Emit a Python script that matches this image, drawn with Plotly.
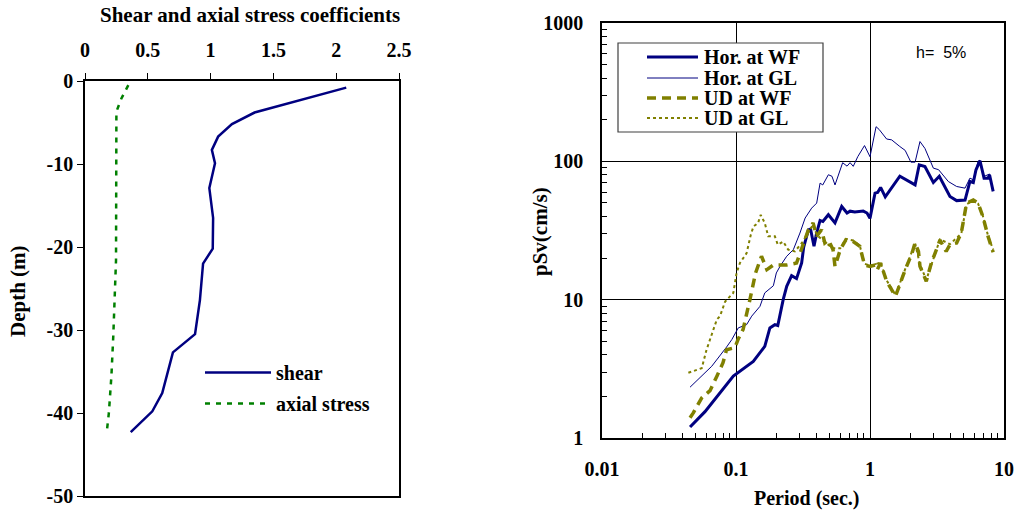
import plotly.graph_objects as go

# ---------------- Left panel data ----------------
shear_coef = [2.08, 1.35, 1.17, 1.06, 1.01, 1.035, 0.99, 1.02, 1.017, 0.94, 0.915, 0.876, 0.70, 0.615, 0.536, 0.364]
shear_depth = [-0.8, -3.8, -5.2, -6.7, -8.3, -9.9, -12.9, -16.5, -20.2, -22.0, -26.4, -30.5, -32.7, -37.6, -39.8, -42.3]

axial_coef = [0.345, 0.29, 0.25, 0.25, 0.247, 0.225, 0.21, 0.19, 0.173]
axial_depth = [-0.5, -2.1, -3.7, -20.2, -21.6, -30.8, -35.6, -40.0, -42.3]

depth_ticks = [0, -10, -20, -30, -40, -50]
depth_ticktext = ["0", "-10", "-20", "-30", "-40", "-50"]
coef_ticks = [0, 0.5, 1, 1.5, 2, 2.5]
coef_ticktext = ["0", "0.5", "1", "1.5", "2", "2.5"]

# ---------------- Right panel data ----------------
hwf_T = [0.0454, 0.0587, 0.0955, 0.1346, 0.164, 0.179, 0.195, 0.205, 0.225, 0.239, 0.26, 0.283, 0.309,
         0.32, 0.347, 0.36, 0.382, 0.40, 0.424, 0.445, 0.489, 0.548, 0.615, 0.674, 0.71, 0.77, 0.89, 0.95,
         1.0, 1.09, 1.14, 1.2, 1.3, 1.58, 1.67, 2.17, 2.33, 2.57, 2.97, 3.29, 3.95, 4.43, 5.12, 5.57, 5.9,
         6.18, 6.62, 7.1, 7.6, 7.8, 8.3]
hwf_v = [1.2, 1.55, 2.8, 3.58, 4.6, 6.25, 6.6, 6.5, 10.0, 12.5, 14.9, 14.2, 18.4,
         24.0, 32.0, 32.4, 24.3, 30.4, 37.4, 36.7, 41.1, 35.9, 47.2, 42.3, 43.6, 43.0, 43.7, 42.3,
         38.7, 58.9, 59.5, 64.8, 55.3, 71.5, 78.1, 67.6, 94.4, 91.7, 70.3, 78.0, 55.7, 52.0, 52.5, 71.5, 70.3,
         86.9, 101.0, 75.6, 75.6, 80.0, 60.6]

hgl_T = [0.0454, 0.051, 0.0659, 0.0851, 0.093, 0.104, 0.12, 0.131, 0.151, 0.164, 0.19, 0.2, 0.213, 0.239,
         0.268, 0.30, 0.328, 0.367, 0.40, 0.424, 0.444, 0.489, 0.52, 0.548, 0.625, 0.674, 0.71, 0.75, 0.81,
         0.91, 1.0, 1.11, 1.17, 1.33, 1.45, 1.67, 1.83, 2.02, 2.17, 2.36, 2.57, 2.97, 3.25, 3.84, 4.43,
         5.12, 5.57, 5.9, 6.4, 6.62, 7.1, 7.8, 8.3]
hgl_v = [2.33, 2.6, 3.3, 4.55, 5.14, 6.25, 6.6, 7.6, 8.95, 11.2, 12.6, 15.6, 17.4, 20.6,
         23.0, 30.3, 38.9, 45.9, 49.9, 69.6, 67.5, 80.0, 78.0, 67.5, 97.7, 92.3, 97.8, 92.0, 108.0,
         130.0, 108.0, 178.0, 170.0, 145.0, 143.0, 128.0, 120.0, 98.6, 98.6, 139.0, 124.0, 89.3, 87.0, 71.5, 65.8,
         64.0, 75.6, 73.6, 100.0, 102.0, 77.8, 81.0, 62.0]

udwf_T = [0.0454, 0.048, 0.0555, 0.064, 0.072, 0.08, 0.085, 0.098, 0.104, 0.113, 0.127, 0.14, 0.155, 0.17,
          0.19, 0.239, 0.283, 0.32, 0.347, 0.376, 0.40, 0.435, 0.46, 0.49, 0.53, 0.548, 0.60, 0.66, 0.71,
          0.75, 0.84, 0.91, 1.0, 1.09, 1.13, 1.2, 1.33, 1.55, 1.63, 1.83, 2.06, 2.17, 2.3, 2.36, 2.63, 2.87,
          3.33, 3.7, 3.95, 4.43, 4.8, 5.26, 5.9, 6.4, 6.95, 7.6, 8.3]
udwf_v = [1.4, 1.52, 1.95, 2.2, 2.8, 3.5, 4.35, 4.5, 5.2, 6.1, 10.0, 15.6, 20.6, 16.5,
          17.8, 17.8, 18.4, 25.7, 32.0, 35.8, 28.8, 32.0, 25.7, 27.0, 23.0, 17.4, 23.0, 27.0, 27.0,
          26.3, 24.3, 17.8, 17.4, 17.8, 16.4, 18.4, 13.6, 10.6, 12.2, 16.4, 21.7, 25.7, 22.3, 17.4, 13.6, 18.4,
          27.0, 22.3, 25.0, 25.7, 30.4, 49.9, 52.5, 50.0, 40.0, 28.7, 22.0]

udgl_T = [0.0441, 0.0555, 0.0603, 0.072, 0.076, 0.083, 0.0955, 0.101, 0.107, 0.12, 0.129, 0.135, 0.146,
          0.153, 0.164, 0.174, 0.195, 0.205, 0.225, 0.245, 0.275, 0.31, 0.376, 0.40, 0.46, 0.53, 0.60,
          0.66, 0.75, 0.84, 0.91, 1.0, 1.09, 1.2, 1.33, 1.55, 1.83, 2.17, 2.36, 2.63, 3.33, 3.95, 4.8,
          5.26, 5.9, 6.4, 6.95, 7.6, 8.3]
udgl_v = [2.96, 3.2, 4.35, 7.2, 7.6, 9.7, 11.2, 15.6, 18.4, 21.7, 29.5, 33.8, 35.8,
          41.0, 35.8, 28.7, 28.7, 25.0, 26.3, 23.0, 22.3, 25.7, 34.8, 29.5, 26.0, 23.5, 23.5,
          27.5, 26.8, 24.5, 18.2, 17.6, 18.0, 18.6, 13.8, 10.8, 16.6, 25.5, 18.0, 13.9,
          27.3, 25.2, 30.0, 49.0, 52.0, 49.5, 40.5, 29.0, 23.0]

x_ticks = [0.01, 0.1, 1, 10]
x_ticktext = ["0.01", "0.1", "1", "10"]
y_ticks = [1, 10, 100, 1000]
y_ticktext = ["1", "10", "100", "1000"]
minor_x = [m * d for d in [0.01, 0.1, 1] for m in range(2, 10)]
minor_y = [m * d for d in [1, 10, 100] for m in range(2, 10)]

SERIF = "Liberation Serif"
NAVY = "#000080"
OLIVE = "#808000"
GREEN = "#008000"

W, H = 1016, 512


def px_x(p):
    return p / W


def px_y(p):
    return 1 - p / H


series_right = [
    dict(x=hwf_T, y=hwf_v, name="Hor. at WF", line=dict(color=NAVY, width=3)),
    dict(x=hgl_T, y=hgl_v, name="Hor. at GL", line=dict(color=NAVY, width=1)),
    dict(x=udwf_T, y=udwf_v, name="UD at WF", line=dict(color=OLIVE, width=3.5, dash="9px,6px")),
    dict(x=udgl_T, y=udgl_v, name="UD at GL", line=dict(color=OLIVE, width=2, dash="3px,3px")),
]

fig = go.Figure()

# Left panel traces
fig.add_trace(go.Scatter(x=shear_coef, y=shear_depth, mode="lines", name="shear",
                         line=dict(color=NAVY, width=2.5), xaxis="x", yaxis="y",
                         legend="legend", legendgroup="g1"))
fig.add_trace(go.Scatter(x=axial_coef, y=axial_depth, mode="lines", name="axial stress",
                         line=dict(color=GREEN, width=2.5, dash="5px,6px"), xaxis="x", yaxis="y",
                         legend="legend", legendgroup="g2"))

# Right panel traces (legend drawn manually below to match the compact box)
for s in series_right:
    fig.add_trace(go.Scatter(x=s["x"], y=s["y"], mode="lines", name=s["name"], line=s["line"],
                             xaxis="x2", yaxis="y2", showlegend=False))

tick_font = dict(family=SERIF, size=20, color="black", weight="bold")

fig.update_layout(
    width=W, height=H, autosize=False,
    margin=dict(l=0, r=0, t=0, b=0, pad=0, autoexpand=False),
    paper_bgcolor="white", plot_bgcolor="white",
    font=dict(family=SERIF, color="black"),
    xaxis=dict(domain=[px_x(85), px_x(399)], range=[0, 2.5], side="top", anchor="y",
               tickvals=coef_ticks, ticktext=coef_ticktext, ticks="outside", ticklen=6,
               tickcolor="black", showline=True, linecolor="black", linewidth=1.5, mirror=True,
               showgrid=False, zeroline=False, tickfont=tick_font, ticklabelstandoff=8,
               automargin=False),
    yaxis=dict(domain=[px_y(496), px_y(81)], range=[-50, 0], anchor="x",
               tickvals=depth_ticks, ticktext=depth_ticktext, ticks="outside", ticklen=6,
               tickcolor="black", showline=True, linecolor="black", linewidth=1.5, mirror=True,
               showgrid=False, zeroline=False, tickfont=tick_font, automargin=False),
    xaxis2=dict(domain=[px_x(602), px_x(1004)], type="log", range=[-2, 1], anchor="y2",
                tickvals=x_ticks, ticktext=x_ticktext, ticks="", showline=True, linecolor="black",
                linewidth=1.5, mirror=True, showgrid=True, gridcolor="black", gridwidth=1,
                zeroline=False, tickfont=tick_font, ticklabelstandoff=12, automargin=False,
                minor=dict(tickvals=minor_x, ticks="inside", ticklen=5, tickcolor="black",
                           showgrid=False)),
    yaxis2=dict(domain=[px_y(438), px_y(23)], type="log", range=[0, 3], anchor="x2",
                tickvals=y_ticks, ticktext=y_ticktext, ticks="", showline=True, linecolor="black",
                linewidth=1.5, mirror=True, showgrid=True, gridcolor="black", gridwidth=1,
                zeroline=False, tickfont=tick_font, ticklabelstandoff=13, automargin=False,
                minor=dict(tickvals=minor_y, ticks="inside", ticklen=5, tickcolor="black",
                           showgrid=False)),
    legend=dict(x=px_x(200), y=px_y(353), xanchor="left", yanchor="top",
                bgcolor="rgba(0,0,0,0)", borderwidth=0,
                font=dict(family=SERIF, size=20, color="black", weight="bold"),
                tracegroupgap=2, itemwidth=66),
    showlegend=True,
)

# ---- manual compact legend for the right panel ----
fig.add_shape(type="rect", xref="paper", yref="paper",
              x0=px_x(618), x1=px_x(823), y0=px_y(132), y1=px_y(43),
              line=dict(color="#404040", width=1.2), fillcolor="white", layer="above")
legend_rows = [57, 78, 98, 118]
for s, row in zip(series_right, legend_rows):
    fig.add_shape(type="line", xref="paper", yref="paper",
                  x0=px_x(647), x1=px_x(698), y0=px_y(row), y1=px_y(row),
                  line=s["line"], layer="above")
    fig.add_annotation(text=s["name"], xref="paper", yref="paper",
                       x=px_x(702), y=px_y(row), showarrow=False, xanchor="left", yanchor="middle",
                       font=dict(family=SERIF, size=20, color="black", weight="bold"))

# titles
fig.add_annotation(text="Shear and axial stress coefficients", xref="paper", yref="paper",
                   x=px_x(250), y=px_y(15), showarrow=False, xanchor="center", yanchor="middle",
                   font=dict(family=SERIF, size=21, color="black", weight="bold"))
fig.add_annotation(text="Depth (m)", xref="paper", yref="paper", textangle=-90,
                   x=px_x(18), y=px_y(291), showarrow=False, xanchor="center", yanchor="middle",
                   font=dict(family=SERIF, size=21, color="black", weight="bold"))
fig.add_annotation(text="pSv(cm/s)", xref="paper", yref="paper", textangle=-90,
                   x=px_x(540), y=px_y(232), showarrow=False, xanchor="center", yanchor="middle",
                   font=dict(family=SERIF, size=21, color="black", weight="bold"))
fig.add_annotation(text="Period (sec.)", xref="paper", yref="paper",
                   x=px_x(807), y=px_y(498), showarrow=False, xanchor="center", yanchor="middle",
                   font=dict(family=SERIF, size=20, color="black", weight="bold"))
fig.add_annotation(text="h=  5%", xref="paper", yref="paper",
                   x=px_x(914), y=px_y(52), showarrow=False, xanchor="left", yanchor="middle",
                   font=dict(family="Liberation Sans", size=16, color="black"))

fig.write_html("out.html")
